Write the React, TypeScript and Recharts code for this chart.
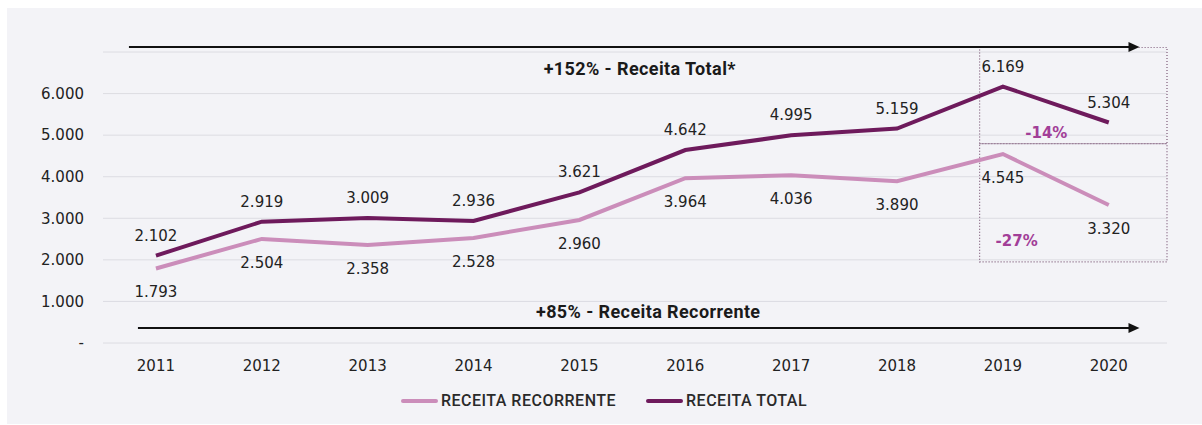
import {
  LineChart,
  Line,
  XAxis,
  YAxis,
  CartesianGrid,
  Legend,
  LabelList,
  ReferenceLine,
  ReferenceArea,
  ReferenceDot
} from 'recharts'

const years = [2011, 2012, 2013, 2014, 2015, 2016, 2017, 2018, 2019, 2020]
const receitaTotal = [2102, 2919, 3009, 2936, 3621, 4642, 4995, 5159, 6169, 5304]
const receitaRecorrente = [1793, 2504, 2358, 2528, 2960, 3964, 4036, 3890, 4545, 3320]
const yTicks = [0, 1000, 2000, 3000, 4000, 5000, 6000]

const TOTAL_COLOR = '#6e1a5c'
const REC_COLOR = '#cb8dba'
const ACCENT = '#a23e98'
const LABEL_FONT = '"DejaVu Sans", Verdana, sans-serif'
const TITLE_FONT = 'Roboto, "Liberation Sans", sans-serif'

const chartData = years.map((year, i) => ({
  year,
  total: receitaTotal[i],
  recorrente: receitaRecorrente[i]
}))

// 6169 -> "6.169", 0 -> "-"
const fmt = (v: number) =>
  v === 0 ? '-' : String(Math.round(v)).replace(/\B(?=(\d{3})+(?!\d))/g, '.')

const Arrow = (props: any) => {
  const { x1, y1, x2, y2 } = props
  return (
    <g>
      <line x1={x1} y1={y1} x2={x2 - 8} y2={y2} stroke="#111" strokeWidth={2} />
      <polygon points={`${x2},${y2} ${x2 - 11},${y2 - 5} ${x2 - 11},${y2 + 5}`} fill="#111" />
    </g>
  )
}

const makeNote = (text: string, color: string, font: string, size: number, spacing = 0) => (props: any) => (
  <text
    x={props.cx}
    y={props.cy}
    textAnchor="middle"
    dominantBaseline="central"
    fill={color}
    fontFamily={font}
    fontSize={size}
    fontWeight="bold"
    letterSpacing={spacing}
  >
    {text}
  </text>
)

const LegendContent = () => (
  <div
    style={{
      display: 'flex',
      justifyContent: 'center',
      gap: 30,
      fontFamily: TITLE_FONT,
      fontSize: 16,
      fontWeight: 500,
      letterSpacing: 0.5,
      color: '#2a2a2a',
      paddingLeft: 6
    }}
  >
    {[
      { label: 'RECEITA RECORRENTE', color: REC_COLOR },
      { label: 'RECEITA TOTAL', color: TOTAL_COLOR }
    ].map(item => (
      <div key={item.label} style={{ display: 'flex', alignItems: 'center' }}>
        <span
          style={{
            display: 'inline-block',
            width: 37,
            height: 4,
            borderRadius: 2,
            background: item.color,
            marginRight: 3
          }}
        />
        {item.label}
      </div>
    ))}
  </div>
)

export default function App() {
  return (
    <div style={{ position: 'relative', width: 1202, height: 425, background: '#fff' }}>
      <style>{'body{margin:0}'}</style>
      <div
        style={{
          position: 'absolute',
          left: 7,
          top: 8,
          right: 0,
          bottom: 1,
          background: '#f3f3f7'
        }}
      />
      <div style={{ position: 'absolute', left: 0, top: 0 }}>
        <LineChart
          width={1202}
          height={425}
          data={chartData}
          margin={{ top: 52, right: 35, left: 0, bottom: 52 }}
        >
          <CartesianGrid vertical={false} stroke="#dcdce2" strokeWidth={1} />
          <XAxis
            dataKey="year"
            type="number"
            domain={[2010.5, 2020.55]}
            ticks={years}
            axisLine={false}
            tickLine={false}
            tickSize={0}
            tickMargin={17}
            height={30}
            tick={{ fill: '#222', fontSize: 15, fontFamily: LABEL_FONT }}
          />
          <YAxis
            domain={[0, 7000]}
            ticks={yTicks}
            width={103}
            axisLine={false}
            tickLine={false}
            tickSize={0}
            tickMargin={19}
            tickFormatter={fmt}
            tick={{ fill: '#222', fontSize: 15, fontFamily: LABEL_FONT }}
          />

          {/* dotted boxes around 2019-2020 */}
          <ReferenceArea
            x1={2018.78}
            x2={2020.55}
            y1={4795}
            y2={7108}
            ifOverflow="visible"
            fill="none"
            stroke="#7d5a78"
            strokeDasharray="1 2"
            strokeWidth={1.2}
          />
          <ReferenceArea
            x1={2018.78}
            x2={2020.55}
            y1={1952}
            y2={4795}
            ifOverflow="visible"
            fill="none"
            stroke="#7d5a78"
            strokeDasharray="1 2"
            strokeWidth={1.2}
          />

          {/* growth arrows */}
          <ReferenceLine
            segment={[{ x: 2010.745, y: 7120 }, { x: 2020.29, y: 7120 }]}
            ifOverflow="visible"
            shape={Arrow}
          />
          <ReferenceLine
            segment={[{ x: 2010.83, y: 361 }, { x: 2020.29, y: 361 }]}
            ifOverflow="visible"
            shape={Arrow}
          />
          <ReferenceDot
            x={2015.57}
            y={6602}
            r={0}
            ifOverflow="visible"
            shape={makeNote('+152% - Receita Total*', '#1a1a1a', TITLE_FONT, 18, 0.4)}
          />
          <ReferenceDot
            x={2015.65}
            y={747}
            r={0}
            ifOverflow="visible"
            shape={makeNote('+85% - Receita Recorrente', '#1a1a1a', TITLE_FONT, 18, 0.4)}
          />
          <ReferenceDot
            x={2019.41}
            y={5060}
            r={0}
            ifOverflow="visible"
            shape={makeNote('-14%', ACCENT, LABEL_FONT, 15)}
          />
          <ReferenceDot
            x={2019.13}
            y={2458}
            r={0}
            ifOverflow="visible"
            shape={makeNote('-27%', ACCENT, LABEL_FONT, 15)}
          />

          <Line
            type="linear"
            dataKey="recorrente"
            stroke={REC_COLOR}
            strokeWidth={4}
            dot={false}
            activeDot={false}
            isAnimationActive={false}
          >
            <LabelList
              dataKey="recorrente"
              position="bottom"
              offset={18}
              formatter={(v: any) => fmt(Number(v))}
              style={{ fill: '#222', fontSize: 15, fontFamily: LABEL_FONT }}
            />
          </Line>
          <Line
            type="linear"
            dataKey="total"
            stroke={TOTAL_COLOR}
            strokeWidth={4}
            dot={false}
            activeDot={false}
            isAnimationActive={false}
          >
            <LabelList
              dataKey="total"
              position="top"
              offset={15}
              formatter={(v: any) => fmt(Number(v))}
              style={{ fill: '#222', fontSize: 15, fontFamily: LABEL_FONT }}
            />
          </Line>

          <Legend
            layout="vertical"
            align="center"
            verticalAlign="middle"
            wrapperStyle={{ top: 391, left: 0, width: 1202 }}
            content={LegendContent}
          />
        </LineChart>
      </div>
    </div>
  )
}
